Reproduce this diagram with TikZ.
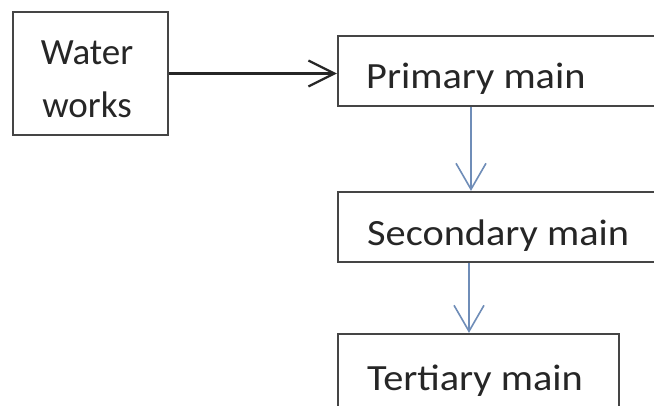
\documentclass[tikz,border=0pt]{standalone}
\usepackage{fontspec}
\usetikzlibrary{arrows.meta}
\newfontfamily\diagfont{Carlito}
\newfontfamily\diagwide[FakeStretch=1.09]{Carlito}
\definecolor{boxline}{HTML}{454545}
\definecolor{txt}{HTML}{262626}
\definecolor{flowblue}{HTML}{6F8DB8}
\begin{document}
\begin{tikzpicture}[x=1pt,y=-1pt,
  box/.style={draw=boxline,line width=2.2pt,minimum width=#1,inner sep=0pt},
  lbl/.style={anchor=base west,inner sep=0pt,text=txt,font=\diagwide\fontsize{37}{44}\selectfont},
  feed/.style={draw=black!85,line width=2.2pt,-{Straight Barb[length=26pt,width=26pt,line width=2.2pt]}},
  flow/.style={draw=flowblue,line width=1.6pt,-{Straight Barb[length=26pt,width=30pt,line width=1.6pt]}}]
  \fill[white] (0,0) rectangle (654,406);
  \useasboundingbox (0,0) rectangle (654,406);
  \clip (0,0) rectangle (654,406);

  % boxes
  \node[box=155pt,minimum height=123pt] (ww) at (90.5,73.5) {};
  \node[box=332pt,minimum height=70pt] (prim) at (504,71) {};
  \node[box=332pt,minimum height=70pt] (sec) at (504,227) {};
  \node[box=281pt,minimum height=78pt] (ter) at (478.5,373) {};

  % labels
  \node[anchor=center,align=center,inner sep=0pt,text=txt,
        font=\diagfont\fontsize{37}{53}\selectfont] (wwtext) at (87,79) {Water\\works};
  \node[lbl] (primtext) at (366,89) {Primary main};
  \node[lbl] (sectext) at (367,246) {Secondary main};
  \node[lbl] (tertext) at (367,391) {Tertiary main};

  % connectors
  \draw[feed] (ww.east) -- (ww.east -| prim.west);
  \coordinate (p1) at ([xshift=-33pt]prim.south);
  \coordinate (s1) at ([xshift=-35pt]sec.south);
  \draw[flow] (p1) -- (p1 |- sec.north);
  \draw[flow] (s1) -- (s1 |- ter.north);
\end{tikzpicture}
\end{document}
